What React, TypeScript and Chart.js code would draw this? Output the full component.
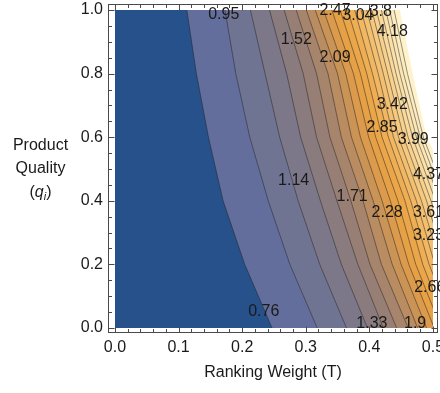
import React, { useEffect, useRef } from 'react';
import { Chart, registerables } from 'chart.js';

Chart.register(...registerables);

// Product quality rows (y) at which the contour positions were read
const qRows = [0, 0.2, 0.4, 0.6, 0.8, 1.0];

// Contour levels
const levels = [0.76, 0.95, 1.14, 1.33, 1.52, 1.71, 1.9, 2.09, 2.28, 2.47, 2.66, 2.85, 3.04, 3.23, 3.42, 3.61, 3.8, 3.99, 4.18, 4.37, 4.56];

// Ranking weight T where each contour level crosses the rows in qRows
const c076 = [0.247, 0.204, 0.170, 0.147, 0.128, 0.113];
const c095 = [0.318, 0.275, 0.241, 0.212, 0.190, 0.173];
const c114 = [0.364, 0.322, 0.288, 0.259, 0.236, 0.213];
const c133 = [0.397, 0.356, 0.323, 0.292, 0.270, 0.243];
const c152 = [0.422, 0.382, 0.349, 0.317, 0.296, 0.266];
const c171 = [0.443, 0.401, 0.371, 0.338, 0.317, 0.285];
const c190 = [0.461, 0.419, 0.390, 0.356, 0.335, 0.301];
const c209 = [0.476, 0.436, 0.406, 0.372, 0.350, 0.315];
const c228 = [0.490, 0.450, 0.420, 0.386, 0.363, 0.328];
const c247 = [0.502, 0.462, 0.433, 0.399, 0.375, 0.341];
const c266 = [0.513, 0.473, 0.445, 0.410, 0.386, 0.354];
const c285 = [0.523, 0.484, 0.456, 0.420, 0.396, 0.366];
const c304 = [0.533, 0.494, 0.465, 0.430, 0.405, 0.377];
const c323 = [0.542, 0.503, 0.474, 0.438, 0.414, 0.387];
const c342 = [0.551, 0.512, 0.482, 0.446, 0.422, 0.396];
const c361 = [0.559, 0.520, 0.490, 0.454, 0.429, 0.404];
const c380 = [0.567, 0.528, 0.497, 0.461, 0.436, 0.411];
const c399 = [0.575, 0.535, 0.504, 0.468, 0.442, 0.419];
const c418 = [0.582, 0.542, 0.511, 0.474, 0.448, 0.426];
const c437 = [0.589, 0.549, 0.517, 0.480, 0.454, 0.432];
const c456 = [0.596, 0.556, 0.523, 0.485, 0.460, 0.439];
const contourT = [c076, c095, c114, c133, c152, c171, c190, c209, c228, c247, c266, c285, c304, c323, c342, c361, c380, c399, c418, c437, c456];

// Edge of the plotted range (white area beyond it)
const rangeEdgeT = [0.640, 0.600, 0.540, 0.490, 0.468, 0.448];

// Axis ticks
const xTicks = [0, 0.1, 0.2, 0.3, 0.4, 0.5];
const yTicks = [0, 0.2, 0.4, 0.6, 0.8, 1.0];

// Contour labels as they appear on the plot
const labelText = ['0.95', '2.47', '3.04', '3.8', '4.18', '1.52', '2.09', '3.42', '2.85', '3.99', '4.37', '1.14', '1.71', '2.28', '3.61', '3.23', '2.66', '0.76', '1.33', '1.9'];
const labelT = [0.171, 0.346, 0.382, 0.418, 0.436, 0.285, 0.346, 0.436, 0.420, 0.469, 0.493, 0.281, 0.373, 0.428, 0.493, 0.493, 0.495, 0.234, 0.404, 0.472];
const labelQ = [0.987, 0.997, 0.984, 0.994, 0.931, 0.906, 0.849, 0.704, 0.629, 0.591, 0.481, 0.465, 0.412, 0.362, 0.362, 0.289, 0.126, 0.050, 0.013, 0.013];

// Band colours (below first level, between levels, above last level)
const bandColors = [
  '#26518a', '#636e9c', '#707493', '#7d7889', '#8a7b7f', '#987f76', '#a7856c', '#b98c62',
  '#cb9457', '#db9a4c', '#e6a045', '#eaa648', '#eeae54', '#f1b762', '#f3c071', '#f5c980',
  '#f7d18e', '#f9d99c', '#fae0a9', '#fce6b5', '#fdecc0', '#fff2cb',
];

const FONT = '"Liberation Sans", Arial, sans-serif';
const TEXT = '#1a1a1a';

export default function App() {
  const ref = useRef<HTMLCanvasElement | null>(null);

  useEffect(() => {
    const canvas = ref.current;
    if (!canvas) return;
    const tMin = xTicks[0];
    const tMax = xTicks[xTicks.length - 1];
    const qMin = yTicks[0];
    const qMax = yTicks[yTicks.length - 1];
    const far = tMax + 0.3;

    const datasets: any[] = [];
    datasets.push({
      data: [{ x: tMin, y: qMin }, { x: tMin, y: qMax }, { x: far, y: qMax }, { x: far, y: qMin }],
      fill: 'shape', backgroundColor: bandColors[0], borderWidth: 0, pointRadius: 0, order: 1000,
      borderDash: [2, 0],
    });
    contourT.forEach((col, k) => {
      const pts = qRows.map((q, j) => ({ x: col[j], y: q }));
      pts.push({ x: far, y: qMax }, { x: far, y: qMin });
      datasets.push({
        data: pts, fill: 'shape', backgroundColor: bandColors[k + 1], borderWidth: 0, pointRadius: 0,
        order: 900 - k, borderDash: [2, 0], label: String(levels[k]),
      });
    });
    contourT.forEach((col, k) => {
      datasets.push({
        data: qRows.map((q, j) => ({ x: col[j], y: q })), fill: false,
        borderColor: 'rgba(30,30,30,0.6)', borderWidth: 0.8, pointRadius: 0, tension: 0, order: 50,
        label: 'line ' + levels[k],
      });
    });
    {
      const pts = qRows.map((q, j) => ({ x: rangeEdgeT[j], y: q }));
      pts.push({ x: far, y: qMax }, { x: far, y: qMin });
      datasets.push({ data: pts, fill: 'shape', backgroundColor: '#ffffff', borderWidth: 0, pointRadius: 0, order: 10, borderDash: [2, 0] });
    }

    const framePlugin = {
      id: 'frameAndLabels',
      beforeDatasetsDraw(chart: any) {
        const { ctx, scales } = chart;
        const x0 = scales.x.getPixelForValue(tMin);
        const x1 = scales.x.getPixelForValue(tMax);
        const y0 = scales.y.getPixelForValue(qMax);
        const y1 = scales.y.getPixelForValue(qMin);
        ctx.save();
        ctx.beginPath();
        ctx.rect(x0, y0, x1 - x0, y1 - y0);
        ctx.clip();
      },
      afterDatasetsDraw(chart: any) {
        const { ctx, scales, chartArea } = chart;
        ctx.restore();
        const xs = scales.x;
        const ys = scales.y;
        ctx.save();
        ctx.strokeStyle = '#4a4a4a';
        ctx.lineWidth = 1;
        const L = chartArea.left + 0.5, R = chartArea.right - 0.5, T = chartArea.top + 0.5, B = chartArea.bottom - 0.5;
        ctx.strokeRect(L, T, R - L, B - T);
        ctx.beginPath();
        const major = 6, minor = 3.5;
        for (let i = 0; i < xTicks.length; i++) {
          const p = Math.round(xs.getPixelForValue(xTicks[i])) + 0.5;
          ctx.moveTo(p, B); ctx.lineTo(p, B - major);
          ctx.moveTo(p, T); ctx.lineTo(p, T + major);
          if (i < xTicks.length - 1) {
            const step = (xTicks[i + 1] - xTicks[i]) / 5;
            for (let m = 1; m < 5; m++) {
              const pm = Math.round(xs.getPixelForValue(xTicks[i] + step * m)) + 0.5;
              ctx.moveTo(pm, B); ctx.lineTo(pm, B - minor);
              ctx.moveTo(pm, T); ctx.lineTo(pm, T + minor);
            }
          }
        }
        for (let i = 0; i < yTicks.length; i++) {
          const p = Math.round(ys.getPixelForValue(yTicks[i])) + 0.5;
          ctx.moveTo(L, p); ctx.lineTo(L + major, p);
          ctx.moveTo(R, p); ctx.lineTo(R - major, p);
          if (i < yTicks.length - 1) {
            const step = (yTicks[i + 1] - yTicks[i]) / 4;
            for (let m = 1; m < 4; m++) {
              const pm = Math.round(ys.getPixelForValue(yTicks[i] + step * m)) + 0.5;
              ctx.moveTo(L, pm); ctx.lineTo(L + minor, pm);
              ctx.moveTo(R, pm); ctx.lineTo(R - minor, pm);
            }
          }
        }
        ctx.stroke();

        ctx.fillStyle = TEXT;
        ctx.font = '16px ' + FONT;
        ctx.textAlign = 'center';
        ctx.textBaseline = 'middle';
        for (let i = 0; i < labelText.length; i++) {
          ctx.fillText(labelText[i], xs.getPixelForValue(labelT[i]), ys.getPixelForValue(labelQ[i]));
        }

        const mid = (ys.getPixelForValue(qMin) + ys.getPixelForValue(qMax)) / 2;
        const cx = 40.5;
        ctx.fillText('Product', cx, mid - 23.5);
        ctx.fillText('Quality', cx, mid);
        const y3 = mid + 23.5;
        const parts = [
          { t: '(', f: '16px ' + FONT, dy: 0 },
          { t: 'q', f: 'italic 16px ' + FONT, dy: 0 },
          { t: 'i', f: 'italic 11px ' + FONT, dy: 4 },
          { t: ')', f: '16px ' + FONT, dy: 0 },
        ];
        let w = 0;
        for (const p of parts) { ctx.font = p.f; w += ctx.measureText(p.t).width; }
        let x = cx - w / 2;
        ctx.textAlign = 'left';
        for (const p of parts) {
          ctx.font = p.f;
          ctx.fillText(p.t, x, y3 + p.dy);
          x += ctx.measureText(p.t).width;
        }
        ctx.restore();
      },
    };

    const chart = new Chart(canvas, {
      type: 'line',
      data: { datasets },
      options: {
        animation: false,
        responsive: false,
        events: [],
        layout: { padding: { top: 4, right: 2, left: 0, bottom: 0 } },
        plugins: { legend: { display: false }, tooltip: { enabled: false } },
        elements: { line: { tension: 0 } },
        scales: {
          x: {
            type: 'linear',
            min: -0.011,
            max: 0.508,
            grid: { display: false, drawTicks: false },
            border: { display: false },
            afterBuildTicks: (s: any) => { s.ticks = xTicks.map((v) => ({ value: v })); },
            afterFit: (s: any) => { s.height = 60; s.paddingLeft = 0; s.paddingRight = 0; s.paddingTop = 0; s.paddingBottom = 0; },
            ticks: {
              padding: 5,
              color: TEXT,
              font: { family: FONT, size: 16 },
              maxRotation: 0,
              autoSkip: false,
              callback: (v: any) => Number(v).toFixed(1),
            },
            title: {
              display: true,
              text: 'Ranking Weight (T)',
              color: TEXT,
              font: { family: FONT, size: 16 },
              padding: { top: 0, bottom: 11 },
            },
          },
          y: {
            type: 'linear',
            min: -0.016,
            max: 1.019,
            grid: { display: false, drawTicks: false },
            border: { display: false },
            afterBuildTicks: (s: any) => { s.ticks = yTicks.map((v) => ({ value: v })); },
            afterFit: (s: any) => { s.width = 108; s.paddingLeft = 0; s.paddingRight = 0; s.paddingTop = 0; s.paddingBottom = 0; },
            ticks: {
              padding: 5,
              color: TEXT,
              font: { family: FONT, size: 16 },
              autoSkip: false,
              callback: (v: any) => Number(v).toFixed(1),
            },
          },
        },
      },
      plugins: [framePlugin],
    } as any);

    return () => chart.destroy();
  }, []);

  return (
    <div style={{ position: 'fixed', left: 0, top: 0, width: 440, height: 393, background: '#fff' }}>
      <canvas ref={ref} width={440} height={393} style={{ display: 'block' }} />
    </div>
  );
}
